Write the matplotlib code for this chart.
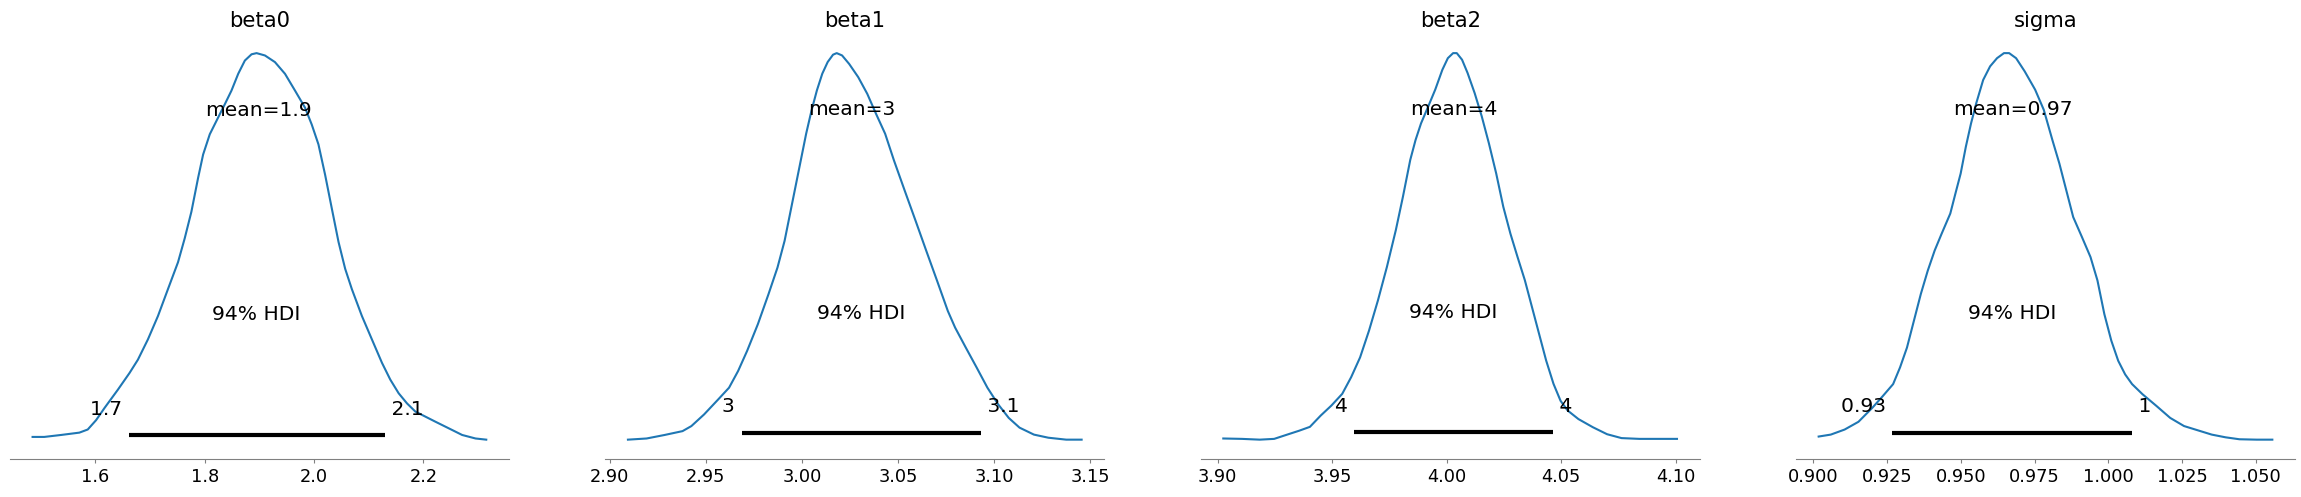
import matplotlib
matplotlib.use("Agg")
import matplotlib.pyplot as plt
from matplotlib.ticker import MultipleLocator

# posterior densities (density relative to peak)
names = ["beta0", "beta1", "beta2", "sigma"]

beta0_x = [1.485, 1.5064, 1.537, 1.5706, 1.5859, 1.6012, 1.6165, 1.641, 1.6624, 1.6777,
           1.696, 1.7144, 1.7327, 1.7511, 1.7633, 1.7755, 1.7878, 1.797, 1.8092, 1.8245,
           1.8367, 1.8489, 1.8612, 1.8734, 1.8856, 1.8948, 1.9101, 1.9284, 1.9468, 1.9651,
           1.9835, 1.9957, 2.008, 2.0202, 2.0324, 2.0447, 2.0569, 2.0691, 2.0875, 2.1058,
           2.1242, 2.1394, 2.1547, 2.17, 2.1853, 2.2037, 2.222, 2.2465, 2.2709, 2.2954, 2.315]
beta0_density = [0.016, 0.016, 0.021, 0.027, 0.035, 0.059, 0.090, 0.137, 0.180, 0.214,
                 0.266, 0.326, 0.395, 0.464, 0.525, 0.593, 0.680, 0.740, 0.792, 0.835,
                 0.869, 0.904, 0.947, 0.981, 0.997, 1.000, 0.994, 0.977, 0.947, 0.904,
                 0.860, 0.817, 0.766, 0.688, 0.602, 0.516, 0.447, 0.395, 0.326, 0.266,
                 0.206, 0.163, 0.128, 0.102, 0.081, 0.068, 0.055, 0.038, 0.021, 0.012, 0.009]

beta1_x = [2.9095, 2.9192, 2.9285, 2.9379, 2.9425, 2.9491, 2.9565, 2.9621, 2.9668, 2.9715,
           2.9771, 2.9826, 2.9873, 2.991, 2.9938, 2.9966, 2.9994, 3.0022, 3.005, 3.0078,
           3.0106, 3.0134, 3.0162, 3.0181, 3.0209, 3.0246, 3.0293, 3.034, 3.0386, 3.0433,
           3.0479, 3.0535, 3.0591, 3.0647, 3.0703, 3.0759, 3.0797, 3.0853, 3.0909, 3.0965,
           3.1021, 3.1076, 3.1132, 3.1207, 3.1282, 3.1375, 3.1455]
beta1_density = [0.003, 0.006, 0.015, 0.025, 0.038, 0.068, 0.107, 0.137, 0.180, 0.232,
                 0.301, 0.378, 0.447, 0.516, 0.585, 0.654, 0.723, 0.792, 0.852, 0.904,
                 0.947, 0.977, 0.996, 1.000, 0.994, 0.972, 0.938, 0.895, 0.843, 0.792,
                 0.723, 0.645, 0.568, 0.490, 0.413, 0.335, 0.292, 0.240, 0.189, 0.137,
                 0.094, 0.059, 0.034, 0.016, 0.008, 0.003, 0.003]

beta2_x = [3.9025, 3.9106, 3.9184, 3.9247, 3.9309, 3.9356, 3.9403, 3.945, 3.9497, 3.9544,
           3.9583, 3.9622, 3.9661, 3.97, 3.9739, 3.9778, 3.9809, 3.9841, 3.9864, 3.9888,
           3.9919, 3.995, 3.9981, 4.0005, 4.0028, 4.0044, 4.0067, 4.0091, 4.0122, 4.0153,
           4.0184, 4.0216, 4.0247, 4.0278, 4.0309, 4.0341, 4.0372, 4.0403, 4.0434, 4.0466,
           4.0497, 4.0528, 4.0575, 4.0638, 4.07, 4.0763, 4.0841, 4.0919, 4.1005]
beta2_density = [0.005, 0.004, 0.002, 0.004, 0.016, 0.025, 0.035, 0.064, 0.090, 0.120,
                 0.163, 0.214, 0.283, 0.361, 0.447, 0.542, 0.628, 0.723, 0.774, 0.817,
                 0.860, 0.904, 0.955, 0.985, 0.998, 0.998, 0.981, 0.947, 0.895, 0.835,
                 0.766, 0.688, 0.602, 0.533, 0.473, 0.413, 0.344, 0.275, 0.206, 0.146,
                 0.102, 0.077, 0.055, 0.034, 0.016, 0.006, 0.004, 0.004, 0.004]

sigma_x = [0.90176, 0.90587, 0.91057, 0.91527, 0.91997, 0.9235, 0.92702, 0.92937, 0.93172,
           0.93407, 0.93642, 0.93877, 0.94112, 0.94347, 0.94641, 0.94817, 0.94993, 0.95169,
           0.95345, 0.95522, 0.95757, 0.95992, 0.96227, 0.96462, 0.96638, 0.96873, 0.97166,
           0.97519, 0.97813, 0.98106, 0.98341, 0.98576, 0.98811, 0.99105, 0.99398, 0.99633,
           0.99868, 1.00103, 1.00338, 1.00573, 1.00808, 1.01161, 1.01631, 1.02101, 1.02571,
           1.0304, 1.0351, 1.0398, 1.0445, 1.05038, 1.05566]
sigma_density = [0.011, 0.016, 0.029, 0.049, 0.085, 0.115, 0.146, 0.189, 0.240, 0.309,
                 0.378, 0.438, 0.490, 0.533, 0.585, 0.637, 0.688, 0.757, 0.817, 0.869,
                 0.929, 0.964, 0.985, 0.998, 0.998, 0.985, 0.951, 0.904, 0.852, 0.774,
                 0.714, 0.645, 0.576, 0.525, 0.473, 0.413, 0.326, 0.258, 0.206, 0.171,
                 0.146, 0.120, 0.090, 0.059, 0.038, 0.027, 0.016, 0.009, 0.004, 0.003, 0.003]

xs = [beta0_x, beta1_x, beta2_x, sigma_x]
densities = [beta0_density, beta1_density, beta2_density, sigma_density]

means = [1.899, 3.026, 4.003, 0.9677]
hdi_low = [1.661, 2.9687, 3.9595, 0.9268]
hdi_high = [2.129, 3.0931, 4.0463, 1.0082]
hdi_prob = 0.94

# x tick spacing of each panel
tick_steps = [0.2, 0.05, 0.05, 0.025]


def round_num(n):
  # two significant figures, like arviz
  return "{:.2g}".format(n)


fig, axes = plt.subplots(1, 4, figsize=(23.01, 4.97), dpi=100)
fig.subplots_adjust(left=0.0043, right=0.9974, bottom=0.0765, top=0.932, wspace=0.193)

for i, ax in enumerate(axes):
  x, d = xs[i], densities[i]
  m, lo, hi = means[i], hdi_low[i], hdi_high[i]
  ax.plot(x, d, color="C0", lw=1.5)
  h = ax.get_ylim()[1]

  # hdi bar and labels
  ax.plot([lo, hi], [h*0.02, h*0.02], lw=3, color="k", solid_capstyle="butt")
  ax.text(lo, h*0.07, round_num(lo) + " ", size=14.6, ha="right")
  ax.text(hi, h*0.07, " " + round_num(hi), size=14.6, ha="left")
  ax.text((lo + hi)/2, h*0.3, "{:.0%} HDI".format(hdi_prob), size=14.6, ha="center")
  ax.text(m, h*0.8, "mean=" + round_num(m), size=14.6, ha="center")

  ax.set_title(names[i], fontsize=15.2, pad=5)
  ax.set_yticks([])
  ax.xaxis.set_major_locator(MultipleLocator(tick_steps[i]))
  for s in ["left", "right", "top"]:
    ax.spines[s].set_visible(False)
  ax.spines["bottom"].set_color("gray")
  ax.tick_params(axis="x", labelsize=12.8, color="gray", length=2.8)

fig.savefig("out.png", dpi=100)
